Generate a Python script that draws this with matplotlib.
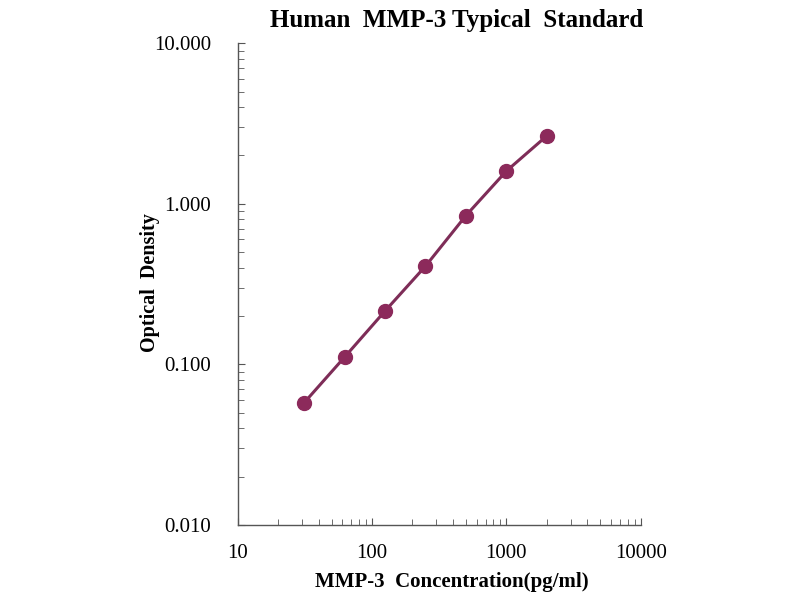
import matplotlib
matplotlib.use("Agg")
import matplotlib.pyplot as plt
from matplotlib.ticker import FixedLocator, FixedFormatter, LogLocator, NullFormatter

concentration = [31.25, 62.5, 125, 250, 500, 1000, 2000]
optical_density = [0.0577, 0.111, 0.215, 0.409, 0.845, 1.60, 2.65]
x_ticks = [10, 100, 1000, 10000]
x_tick_labels = ["10", "100", "1000", "10000"]
y_ticks = [0.01, 0.1, 1, 10]
y_tick_labels = ["0.010", "0.100", "1.000", "10.000"]

plt.rcParams['font.family'] = ['Liberation Serif', 'DejaVu Serif']

fig = plt.figure(figsize=(8, 6), dpi=100)
ax = fig.add_axes([0.297, 0.125, 0.504, 0.803])

color = '#8C2A5B'
ax.plot(concentration, optical_density, '-', color='#7E2D58', lw=2.2, zorder=2)
ax.plot(concentration, optical_density, 'o', color=color, ms=10, zorder=3)

ax.set_xscale('log')
ax.set_yscale('log')
ax.set_xlim(10, 10000)
ax.set_ylim(0.01, 10)

ax.xaxis.set_major_locator(FixedLocator(x_ticks))
ax.xaxis.set_major_formatter(FixedFormatter(x_tick_labels))
ax.yaxis.set_major_locator(FixedLocator(y_ticks))
ax.yaxis.set_major_formatter(FixedFormatter(y_tick_labels))
ax.xaxis.set_minor_locator(LogLocator(base=10, subs=range(2, 10)))
ax.yaxis.set_minor_locator(LogLocator(base=10, subs=range(2, 10)))
ax.xaxis.set_minor_formatter(NullFormatter())
ax.yaxis.set_minor_formatter(NullFormatter())

for s in ['top', 'right']:
    ax.spines[s].set_visible(False)
for s in ['left', 'bottom']:
    ax.spines[s].set_color('#555555')
    ax.spines[s].set_linewidth(1.0)

ax.tick_params(axis='both', which='both', direction='in', color='#555555', labelsize=15)
ax.tick_params(axis='both', which='major', length=5)
ax.tick_params(axis='both', which='minor', length=4)
ax.tick_params(axis='y', which='major', pad=19)
ax.tick_params(axis='x', which='major', pad=14)

ax.set_xlabel('MMP-3  Concentration(pg/ml)', fontsize=15, fontweight='bold')
ax.set_ylabel('Optical  Density', fontsize=14.5, fontweight='bold')
ax.xaxis.set_label_coords(0.532, -0.098)
ax.yaxis.set_label_coords(-0.192, 0.504)
fig.text(0.571, 0.965, 'Human  MMP-3 Typical  Standard', fontsize=18, fontweight='bold',
         ha='center', va='center')

fig.savefig('out.png', dpi=100, facecolor='white')
